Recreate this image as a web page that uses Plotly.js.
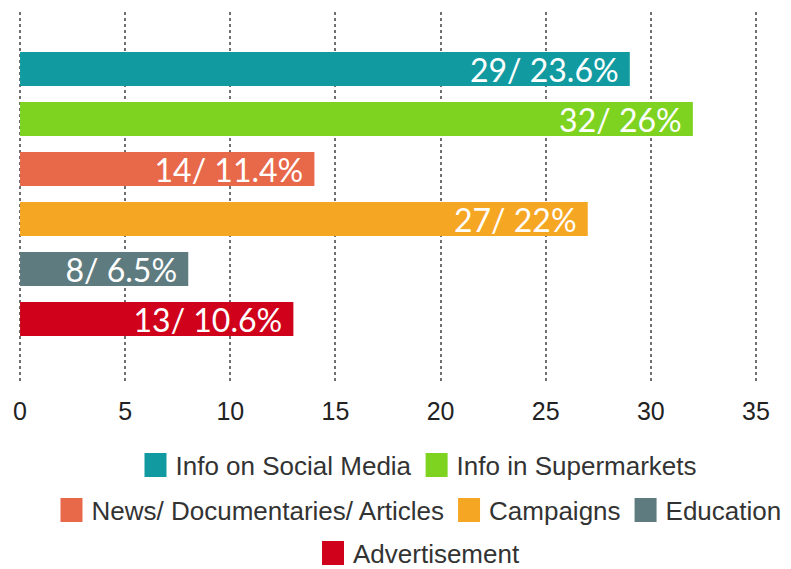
<!DOCTYPE html>
<html>
<head>
<meta charset="utf-8">
<script src="https://cdn.plot.ly/plotly-3.0.1.min.js"></script>
<style>html,body{margin:0;padding:0;background:#fff;}#chart{width:791px;height:569px;}</style>
</head>
<body>
<div id="chart"></div>
<script>
const categories = ["Info on Social Media", "Info in Supermarkets", "News/ Documentaries/ Articles", "Campaigns", "Education", "Advertisement"];
const counts = [29, 32, 14, 27, 8, 13];
const percents = ["23.6%", "26%", "11.4%", "22%", "6.5%", "10.6%"];
const colors = ["#119BA1", "#7ED321", "#E8684A", "#F5A623", "#5E7B80", "#D0021B"];
const legendRows = ["legend", "legend", "legend2", "legend2", "legend2", "legend3"];
const xTicks = [0, 5, 10, 15, 20, 25, 30, 35];

const traces = categories.map((c, i) => ({
  type: "bar",
  orientation: "h",
  name: c,
  legend: legendRows[i],
  y: [c],
  x: [counts[i]],
  text: [counts[i] + "/ " + percents[i] + "\u00a0"],
  textposition: "inside",
  insidetextanchor: "end",
  constraintext: "none",
  textfont: {family: "Lato, 'Open Sans', sans-serif", size: 32, color: "#ffffff"},
  marker: {color: colors[i], line: {width: 0}},
  width: 0.68,
  hoverinfo: "none"
}));

const legendBase = {
  orientation: "h",
  xref: "container", yref: "container",
  x: 0.5297, xanchor: "center", yanchor: "middle",
  font: {size: 26, color: "#333"},
  traceorder: "normal",
  itemwidth: 30,
  bgcolor: "rgba(0,0,0,0)"
};

const layout = {
  width: 791, height: 569,
  margin: {l: 19, r: 34, t: 12, b: 186},
  paper_bgcolor: "#ffffff", plot_bgcolor: "#ffffff",
  barmode: "overlay",
  showlegend: true,
  font: {family: "'Liberation Sans', Arial, sans-serif", color: "#222"},
  xaxis: {
    range: [-0.05, 35.05],
    tickvals: xTicks,
    ticktext: xTicks.map(String),
    showgrid: true, gridcolor: "#707070", gridwidth: 2, griddash: "3px,3px",
    zeroline: false, showline: false,
    ticks: "", ticklabelstandoff: 11,
    tickfont: {size: 25, color: "#222"}
  },
  yaxis: {
    type: "category",
    categoryorder: "array", categoryarray: categories,
    range: [6.28, -1.14],
    showticklabels: false, showgrid: false, zeroline: false, showline: false, ticks: ""
  },
  legend: Object.assign({}, legendBase, {y: 0.1828}),
  legend2: Object.assign({}, legendBase, {y: 0.1037}),
  legend3: Object.assign({}, legendBase, {y: 0.0281})
};

function enlargeSwatches() {
  // enlarge the legend colour swatches to match the reference
  document.querySelectorAll("#chart .legendpoints path").forEach(function (p) {
    p.setAttribute("d", "M11,12H-11V-12H11Z");
  });
}

const gd = document.getElementById("chart");
Plotly.newPlot(gd, traces, layout, {displayModeBar: false, staticPlot: true}).then(function () {
  enlargeSwatches();
  setTimeout(enlargeSwatches, 0);
  setTimeout(enlargeSwatches, 50);
});
gd.on && gd.on("plotly_afterplot", enlargeSwatches);
</script>
</body>
</html>
